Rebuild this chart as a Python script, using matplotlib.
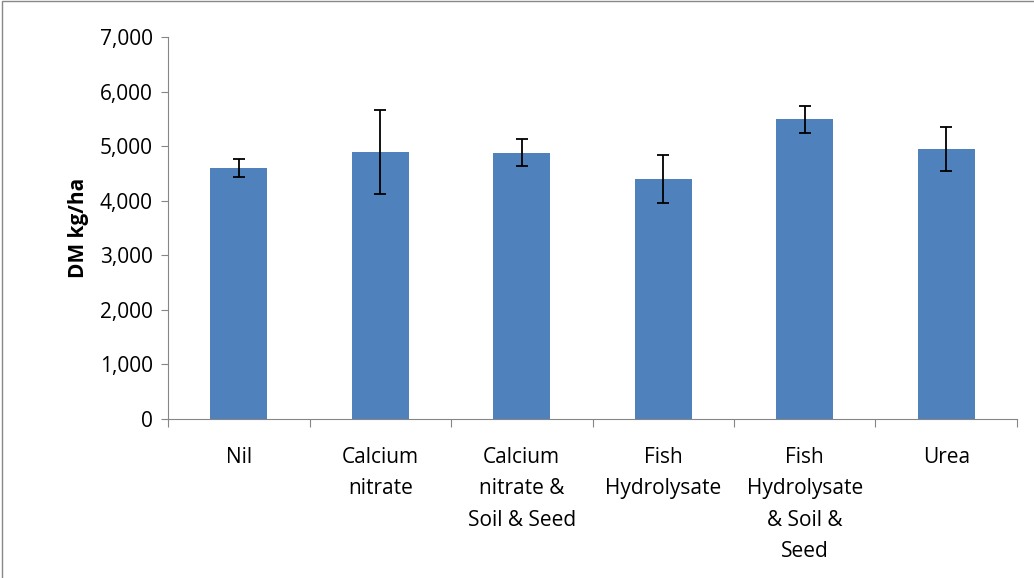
import matplotlib.pyplot as plt
import numpy as np

plt.rcParams['font.family'] = ['Open Sans', 'DejaVu Sans']

categories = ["Nil", "Calcium\nnitrate", "Calcium\nnitrate &\nSoil & Seed",
              "Fish\nHydrolysate", "Fish\nHydrolysate\n& Soil &\nSeed", "Urea"]
dm_values = [4600, 4890, 4880, 4400, 5490, 4950]
dm_errors = [170, 770, 250, 440, 250, 400]

fig = plt.figure(figsize=(10.34, 5.78), dpi=100)
ax = fig.add_axes([168 / 1034, 1 - 419 / 578, (1017 - 168) / 1034, (419 - 37) / 578])

x = np.arange(len(categories))
ax.bar(x, dm_values, width=0.4, color="#4f81bd", zorder=2)
ax.errorbar(x, dm_values, yerr=dm_errors, fmt="none", ecolor="black",
            elinewidth=1.3, capsize=4, capthick=1.3, zorder=3)

ax.set_xlim(-0.5, len(categories) - 0.5)
ax.set_ylim(0, 7000)
ax.set_yticks(range(0, 7001, 1000))
ax.set_yticklabels(["{:,}".format(v) for v in range(0, 7001, 1000)], fontsize=15)
ax.set_xticks(np.arange(-0.5, len(categories), 1))
ax.set_xticklabels([])
ax.set_xticks(x, minor=True)
ax.set_xticklabels(categories, minor=True, fontsize=15, va="top", linespacing=1.65)
ax.tick_params(axis="x", which="minor", length=0, pad=20)
ax.tick_params(axis="x", which="major", length=6, direction="out", color="#868686")
ax.tick_params(axis="y", length=5, direction="out", color="#868686", pad=6)
ax.set_ylabel("DM kg/ha", fontsize=15, fontweight="bold", labelpad=8)

for s in ["top", "right"]:
    ax.spines[s].set_visible(False)
for s in ["left", "bottom"]:
    ax.spines[s].set_color("#868686")

fig.patches.append(plt.Rectangle((0.002, -0.01), 1.1, 1.008, transform=fig.transFigure,
                                 fill=False, edgecolor="#888888", linewidth=1))

fig.savefig("out.png", dpi=100)
